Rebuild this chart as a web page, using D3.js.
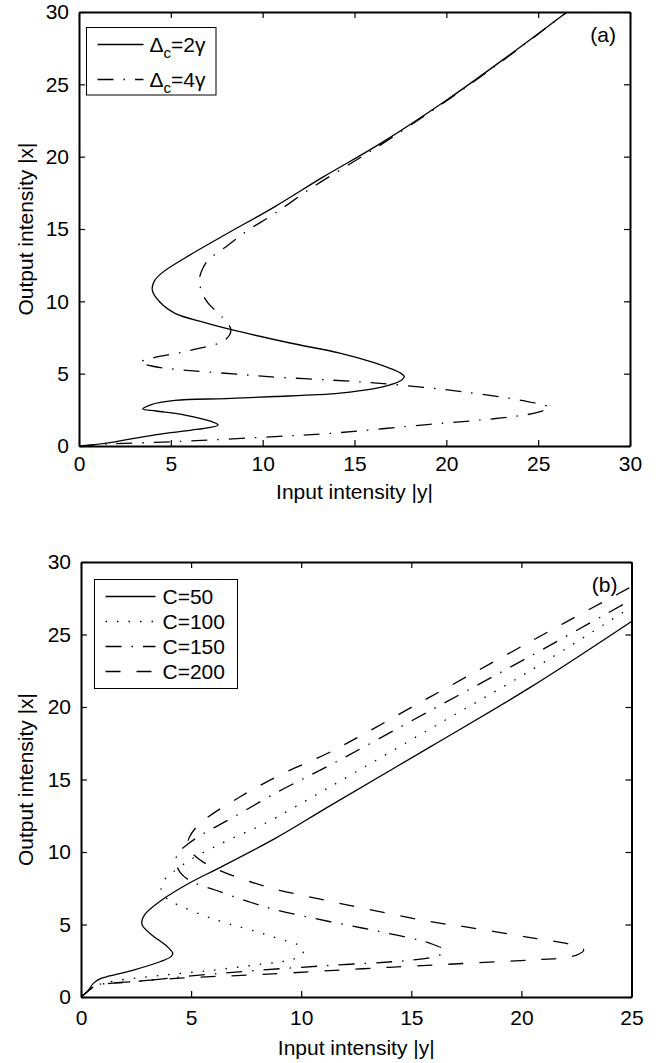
<!DOCTYPE html>
<html><head><meta charset="utf-8">
<script src="https://cdn.jsdelivr.net/npm/d3@7"></script>
<style>
body{margin:0;background:#fff}
text{font-family:"Liberation Sans",Arial,Helvetica,sans-serif;fill:#000}
</style>
</head><body>
<svg id="chart" width="663" height="1063"></svg>
<script>
// ---------- Data: points as (input |y|, output |x|) ----------
// Panel (a)
const aTicks = [0, 5, 10, 15, 20, 25, 30];
const aSolidIn  = [0,1.5,3.4,5.0,6.13,7.0,7.58,7.2,5.77,4.2,3.47,3.9,5.23,8.0,10.67,13.0,14.2,16.0,16.93,17.55,17.71,17.45,16.93,16.02,14.2,11.49,8.76,6.8,5.23,4.4,3.99,4.1,4.5,5.77,7.95,10.67,13.3,16.4,20.0,23.3,26.57];
const aSolidOut = [0,0.2,0.62,0.92,1.1,1.25,1.45,1.7,2.14,2.42,2.56,2.85,3.15,3.28,3.42,3.55,3.66,3.95,4.22,4.55,4.79,5.08,5.37,5.78,6.42,7.12,7.9,8.55,9.17,9.95,10.78,11.4,11.95,13.0,14.6,16.55,18.6,20.9,23.9,26.9,30];
const aDashDotIn  = [0,1.6,5.23,10.67,13.66,19.1,22.7,24.9,25.6,24.9,20.9,16.4,13.66,10.3,8.76,5.23,3.96,3.32,3.96,6.13,7.95,8.27,7.77,7.04,6.7,6.55,6.75,7.04,8.13,9.22,10.67,12.48,14.5,16.4,20.0,23.3,26.57];
const aDashDotOut = [0,0.14,0.3,0.65,0.87,1.5,1.9,2.3,2.65,2.95,3.75,4.33,4.56,4.79,4.95,5.3,5.53,5.78,6.06,6.63,7.33,8.02,8.94,9.86,10.6,11.5,12.3,12.85,13.9,14.93,16.08,17.69,19.3,20.8,23.85,26.85,30];
const aSeriesNames = ["2γ", "4γ"];

// Panel (b)
const bXTicks = [0, 5, 10, 15, 20, 25];
const bYTicks = [0, 5, 10, 15, 20, 25, 30];
const bC50In  = [0,0.3,0.56,0.86,1.3,2.38,3.59,4.1,4.17,3.9,3.2,2.8,2.76,2.9,3.67,5.03,6.24,8.82,11.32,15.86,20.4,25.0];
const bC50Out = [0,0.4,0.94,1.25,1.45,1.86,2.43,2.8,3.01,3.5,4.3,4.9,5.19,5.7,6.69,7.95,8.87,10.94,13.2,17.25,21.35,25.9];
const bC100In  = [0,0.35,0.7,1.5,3.7,6.0,7.83,8.97,9.5,10.0,10.1,9.85,9.05,7.98,6.39,5.49,4.42,3.97,3.64,3.79,4.2,4.95,5.94,6.85,8.21,11.32,15.86,20.4,25];
const bC100Out = [0,0.45,0.8,1.1,1.5,1.85,2.2,2.41,2.55,2.85,3.2,3.6,3.98,4.5,5.19,5.66,6.34,6.69,7.3,8.07,8.64,9.45,10.26,10.94,11.86,14.5,18.5,22.5,26.9];
const bC150In  = [0,0.35,0.7,2.8,5.0,7.68,11.0,14.7,15.94,16.4,16.47,15.86,13.6,11.32,8.89,7.76,6.09,5.03,4.5,4.3,4.45,4.9,5.6,6.8,9.0,11.32,15.86,20.4,25];
const bC150Out = [0,0.45,0.8,1.1,1.45,1.8,2.15,2.5,2.74,3.0,3.24,3.7,4.5,5.19,6.0,6.5,7.38,7.95,8.6,9.4,10.0,10.6,11.3,12.3,14.2,16.0,19.75,23.5,27.4];
const bC200In  = [0,0.35,0.7,1.9,4.5,8.29,14.0,20.4,21.92,22.6,22.83,22.3,20.4,17.4,15.86,11.32,8.44,6.24,5.41,4.95,4.85,4.95,5.41,7.23,9.2,11.32,15.86,21.92,25];
const bC200Out = [0,0.45,0.8,1.0,1.3,1.56,2.05,2.55,2.7,2.95,3.24,3.6,4.1,4.85,5.2,6.6,7.6,8.76,9.45,10.1,10.6,11.1,11.98,13.81,15.43,16.9,20.7,25.77,28.3];
const bSeriesNames = ["C=50", "C=100", "C=150", "C=200"];

// ---------- Drawing ----------
const svg = d3.select("#chart");
const FS = 21;
const DASH = {solid: null, dot: "1.5,10", dashdot: "16,10,1.5,10", dash: "15,16"};

function zip(a, b) { return a.map((v, i) => [v, b[i]]); }

function panel(cfg) {
  const x = d3.scaleLinear().domain([0, cfg.xmax]).range([cfg.left, cfg.right]);
  const y = d3.scaleLinear().domain([0, 30]).range([cfg.bottom, cfg.top]);
  const g = svg.append("g");
  const clipId = "clip" + cfg.id;
  svg.append("clipPath").attr("id", clipId).append("rect")
    .attr("x", cfg.left).attr("y", cfg.top)
    .attr("width", cfg.right - cfg.left).attr("height", cfg.bottom - cfg.top);

  const line = d3.line().x(d => x(d[0])).y(d => y(d[1])).curve(d3.curveCatmullRom.alpha(0.5));
  const cg = g.append("g").attr("clip-path", `url(#${clipId})`);
  cfg.series.forEach(s => {
    cg.append("path").attr("d", line(zip(s.xin, s.yout)))
      .attr("fill", "none").attr("stroke", "#000").attr("stroke-width", 1.3)
      .attr("stroke-dasharray", DASH[s.style]);
  });

  // axes
  const ax = [
    d3.axisBottom(x).tickValues(cfg.xticks).tickSizeInner(-6).tickSizeOuter(0).tickPadding(cfg.xpad),
    d3.axisLeft(y).tickValues(cfg.yticks).tickSizeInner(-6).tickSizeOuter(0).tickPadding(10),
    d3.axisTop(x).tickValues(cfg.xticks).tickSizeInner(-6).tickSizeOuter(0).tickFormat(""),
    d3.axisRight(y).tickValues(cfg.yticks).tickSizeInner(-6).tickSizeOuter(0).tickFormat("")
  ];
  const tr = [`translate(0,${cfg.bottom})`, `translate(${cfg.left},0)`, `translate(0,${cfg.top})`, `translate(${cfg.right},0)`];
  ax.forEach((a, i) => {
    const ag = g.append("g").attr("transform", tr[i]).call(a);
    ag.select(".domain").attr("stroke", "#000").attr("stroke-width", 2);
    ag.selectAll(".tick line").attr("stroke", "#000").attr("stroke-width", 1.2);
    ag.selectAll(".tick text").attr("font-size", FS).attr("font-family", '"Liberation Sans",Arial,sans-serif').attr("fill", "#000");
  });

  // titles
  g.append("text").attr("x", (cfg.left + cfg.right) / 2).attr("y", cfg.bottom + cfg.titleOff)
    .attr("text-anchor", "middle").attr("font-size", FS).text("Input intensity |y|");
  g.append("text").attr("transform", `translate(33,${(cfg.top + cfg.bottom) / 2}) rotate(-90)`)
    .attr("text-anchor", "middle").attr("font-size", FS).text("Output intensity |x|");
  g.append("text").attr("x", cfg.right - 14).attr("y", cfg.top + 30)
    .attr("text-anchor", "end").attr("font-size", FS).text(cfg.tag);

  // legend
  const L = cfg.legend;
  g.append("rect").attr("x", L.x).attr("y", L.y).attr("width", L.w).attr("height", L.h)
    .attr("fill", "#fff").attr("stroke", "#000").attr("stroke-width", 1);
  cfg.series.forEach((s, i) => {
    const cy = L.y + L.first + i * L.step;
    g.append("line").attr("x1", L.x + 11).attr("x2", L.x + 11 + L.len).attr("y1", cy).attr("y2", cy)
      .attr("stroke", "#000").attr("stroke-width", 1.3).attr("stroke-dasharray", DASH[s.style]);
    const t = g.append("text").attr("x", L.x + L.textX).attr("y", cy + 7).attr("font-size", FS);
    if (s.delta) {
      t.append("tspan").text("Δ");
      t.append("tspan").attr("font-size", 15).attr("dy", 6).text("c");
      t.append("tspan").attr("dy", -6).text("=" + s.label);
    } else {
      t.text(s.label);
    }
  });
}

panel({
  id: "a", left: 79, right: 630, top: 12, bottom: 446, xmax: 30, xpad: 10, titleOff: 53,
  xticks: aTicks, yticks: aTicks, tag: "(a)",
  series: [
    {xin: aSolidIn, yout: aSolidOut, style: "solid", label: aSeriesNames[0], delta: true},
    {xin: aDashDotIn, yout: aDashDotOut, style: "dashdot", label: aSeriesNames[1], delta: true}
  ],
  legend: {x: 86.5, y: 27.5, w: 129.5, h: 67.5, first: 17, step: 35, len: 46, textX: 63}
});

panel({
  id: "b", left: 81, right: 631.5, top: 562, bottom: 997, xmax: 25, xpad: 13, titleOff: 58,
  xticks: bXTicks, yticks: bYTicks, tag: "(b)",
  series: [
    {xin: bC50In, yout: bC50Out, style: "solid", label: bSeriesNames[0]},
    {xin: bC100In, yout: bC100Out, style: "dot", label: bSeriesNames[1]},
    {xin: bC150In, yout: bC150Out, style: "dashdot", label: bSeriesNames[2]},
    {xin: bC200In, yout: bC200Out, style: "dash", label: bSeriesNames[3]}
  ],
  legend: {x: 94.5, y: 579.5, w: 143, h: 109, first: 17, step: 25, len: 50, textX: 68}
});
</script>
</body></html>
